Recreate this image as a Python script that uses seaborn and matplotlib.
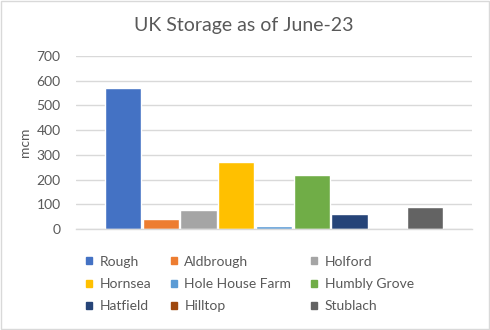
import matplotlib
matplotlib.use("Agg")
import matplotlib.pyplot as plt
import seaborn as sns
import pandas as pd
from matplotlib.patches import Patch, Rectangle

sites = ["Rough", "Aldbrough", "Holford", "Hornsea", "Hole House Farm",
         "Humbly Grove", "Hatfield", "Hilltop", "Stublach"]
storage = [570, 42, 76, 271, 13, 220, 59, 2, 89]
colors = ["#4472C4", "#ED7D31", "#A5A5A5", "#FFC000", "#5B9BD5",
          "#70AD47", "#264478", "#9E480E", "#636363"]
yticks = [0, 100, 200, 300, 400, 500, 600, 700]

sns.set_style("white")
plt.rcParams['font.family'] = ['Lato', 'DejaVu Sans']
txt = "#595959"

df = pd.DataFrame({"site": sites, "value": storage})
fig = plt.figure(figsize=(4.9, 3.3), dpi=100)
ax = fig.add_axes([76/490, (330-229)/330, (472-76)/490, (229-56)/330])
sns.barplot(data=df, x="site", y="value", hue="site", palette=colors,
            order=sites, hue_order=sites, width=0.96, legend=False, ax=ax,
            saturation=1)
ax.set_xlim(-1.25, 9.25)
ax.set_ylim(0, 700)
ax.set_yticks(yticks)
ax.set_yticklabels([str(v) for v in yticks], fontsize=10, color=txt)
ax.set_xticks([])
ax.set_xlabel("")
ax.set_ylabel("mcm", fontsize=10, color=txt, labelpad=4)
ax.tick_params(axis="y", length=0, pad=11)
ax.grid(axis="y", color="#D9D9D9", linewidth=1)
ax.set_axisbelow(True)
for s in ["top", "right", "left"]:
    ax.spines[s].set_visible(False)
ax.spines["bottom"].set_color("#D9D9D9")
ax.spines["bottom"].set_linewidth(1)

fig.text(244/490, 1 - 25/330, "UK Storage as of June-23", ha="center",
         va="center", fontsize=14, color=txt)

handles = [Patch(facecolor=c, edgecolor=c) for c in colors]
order = [0, 3, 6, 1, 4, 7, 2, 5, 8]
leg = fig.legend([handles[i] for i in order], [sites[i] for i in order],
                 ncol=3, loc="center", bbox_to_anchor=(250/490, 1 - 284/330),
                 frameon=False, fontsize=10, handlelength=0.4, handleheight=0.4,
                 handletextpad=0.55, columnspacing=1.45, labelspacing=0.75,
                 labelcolor=txt)

fig.patches.append(Rectangle((0.002, 0.003), 0.996, 0.994, transform=fig.transFigure,
                             fill=False, edgecolor="#D9D9D9", linewidth=1))
fig.savefig("out.png", dpi=100)
